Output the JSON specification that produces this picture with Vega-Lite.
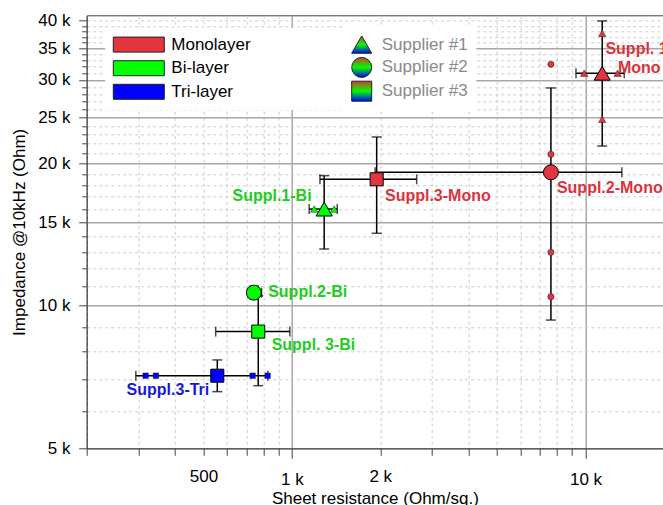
{
  "$schema": "https://vega.github.io/schema/vega-lite/v6.json",
  "width": 576.3,
  "height": 433,
  "autosize": {"type": "none"},
  "padding": {"left": 86.7, "top": 15.3, "right": 0, "bottom": 56.7},
  "background": "white",
  "datasets": {
    "pts": [
      {"name": "Suppl. 1-\nMono", "supplier": "Supplier #1", "layer": "Monolayer", "x": 11400, "y": 31000, "xlo": 9280, "xhi": 13550, "ylo": 21750, "yhi": 39960},
      {"name": "Suppl.2-Mono", "supplier": "Supplier #2", "layer": "Monolayer", "x": 7625, "y": 19140, "xlo": 1920, "xhi": 13300, "ylo": 9330, "yhi": 28850},
      {"name": "Suppl.3-Mono", "supplier": "Supplier #3", "layer": "Monolayer", "x": 1944, "y": 18500, "xlo": 1246, "xhi": 2660, "ylo": 14230, "yhi": 22730},
      {"name": "Suppl.1-Bi", "supplier": "Supplier #1", "layer": "Bi-layer", "x": 1288, "y": 16010, "xlo": 1145, "xhi": 1427, "ylo": 13180, "yhi": 18830},
      {"name": "Suppl.2-Bi", "supplier": "Supplier #2", "layer": "Bi-layer", "x": 742, "y": 10660, "xlo": 707, "xhi": 788, "ylo": 10350, "yhi": 11000},
      {"name": "Suppl. 3-Bi", "supplier": "Supplier #3", "layer": "Bi-layer", "x": 768, "y": 8820, "xlo": 550, "xhi": 984, "ylo": 6780, "yhi": 10500},
      {"name": "Suppl.3-Tri", "supplier": "Supplier #3", "layer": "Tri-layer", "x": 557, "y": 7117, "xlo": 294, "xhi": 828, "ylo": 6586, "yhi": 7685}
    ],
    "samples": [
      {"supplier": "Supplier #1", "layer": "Monolayer", "x": 11400, "y": 37630},
      {"supplier": "Supplier #1", "layer": "Monolayer", "x": 9900, "y": 31000},
      {"supplier": "Supplier #1", "layer": "Monolayer", "x": 12860, "y": 31000},
      {"supplier": "Supplier #1", "layer": "Monolayer", "x": 11400, "y": 24770},
      {"supplier": "Supplier #2", "layer": "Monolayer", "x": 7625, "y": 32370},
      {"supplier": "Supplier #2", "layer": "Monolayer", "x": 7625, "y": 20890},
      {"supplier": "Supplier #2", "layer": "Monolayer", "x": 7625, "y": 12970},
      {"supplier": "Supplier #2", "layer": "Monolayer", "x": 7625, "y": 10450},
      {"supplier": "Supplier #1", "layer": "Bi-layer", "x": 1191, "y": 16010},
      {"supplier": "Supplier #1", "layer": "Bi-layer", "x": 1393, "y": 16010},
      {"supplier": "Supplier #3", "layer": "Tri-layer", "x": 317.5, "y": 7117},
      {"supplier": "Supplier #3", "layer": "Tri-layer", "x": 344.2, "y": 7117},
      {"supplier": "Supplier #3", "layer": "Tri-layer", "x": 734.8, "y": 7117},
      {"supplier": "Supplier #3", "layer": "Tri-layer", "x": 826.4, "y": 7117}
    ]
  },
  "layer": [
    {
      "data": {"name": "pts"},
      "mark": {"type": "errorbar", "color": "black", "thickness": 1.5, "ticks": {"size": 10, "thickness": 1.5, "color": "black"}},
      "encoding": {
        "x": {
          "field": "xlo", "type": "quantitative", "title": "Sheet resistance (Ohm/sq.)",
          "scale": {"type": "log", "domain": [200, 18364], "nice": false},
          "axis": {
            "title": "Sheet resistance (Ohm/sq.)",
            "values": [200, 300, 400, 500, 600, 700, 800, 900, 1000, 2000, 3000, 4000, 5000, 6000, 7000, 8000, 9000, 10000],
            "labelExpr": "datum.value == 500 ? '500' : (datum.value == 1000 ? '1 k' : (datum.value == 2000 ? '2 k' : (datum.value == 10000 ? '10 k' : '')))",
            "labelOverlap": false, "labelFlush": false, "labelBound": false,
            "grid": true,
            "gridDash": {"condition": {"test": "datum.value == 1000 || datum.value == 10000", "value": []}, "value": [3, 3]},
            "gridColor": {"condition": {"test": "datum.value == 1000 || datum.value == 10000", "value": "#a8a8a8"}, "value": "#cccccc"},
            "gridWidth": {"condition": {"test": "datum.value == 1000 || datum.value == 10000", "value": 1.5}, "value": 1},
            "tickSize": {"condition": {"test": "datum.value == 1000 || datum.value == 10000", "value": 10}, "value": 7},
            "labelPadding": 13.5,
            "titlePadding": 2.5
          }
        },
        "x2": {"field": "xhi"},
        "y": {
          "field": "y", "type": "quantitative", "title": "Impedance @10kHz (Ohm)",
          "scale": {"type": "log", "domain": [5000, 41080], "nice": false},
          "axis": {
            "title": "Impedance @10kHz (Ohm)",
            "values": [5000, 6000, 7000, 8000, 9000, 10000, 11000, 12000, 13000, 14000, 15000, 16000, 17000, 18000, 19000, 20000, 21000, 22000, 23000, 24000, 25000, 26000, 27000, 28000, 29000, 30000, 31000, 32000, 33000, 34000, 35000, 36000, 37000, 38000, 39000, 40000],
            "labelExpr": "datum.value % 5000 == 0 ? (datum.value / 1000) + ' k' : ''",
            "labelOverlap": false, "labelFlush": false, "labelBound": false,
            "grid": true,
            "gridDash": {"condition": {"test": "datum.value % 5000 == 0 && datum.value < 40000", "value": []}, "value": [3, 3]},
            "gridColor": {"condition": {"test": "datum.value % 5000 == 0 && datum.value < 40000", "value": "#a8a8a8"}, "value": "#cccccc"},
            "gridWidth": {"condition": {"test": "datum.value % 5000 == 0 && datum.value < 40000", "value": 1.5}, "value": 1},
            "tickSize": {"condition": {"test": "datum.value % 5000 == 0", "value": 8}, "value": 5},
            "labelPadding": 8.7,
            "titlePadding": 9
          }
        }
      }
    },
    {
      "data": {"name": "pts"},
      "mark": {"type": "errorbar", "color": "black", "thickness": 1.5, "ticks": {"size": 10, "thickness": 1.5, "color": "black"}},
      "encoding": {
        "x": {"field": "x", "type": "quantitative", "title": "Sheet resistance (Ohm/sq.)"},
        "y": {"field": "ylo", "type": "quantitative", "title": "Impedance @10kHz (Ohm)"},
        "y2": {"field": "yhi"}
      }
    },
    {
      "data": {"name": "samples"},
      "mark": {"type": "point", "filled": true, "opacity": 1, "stroke": "#222222", "strokeWidth": 0.5},
      "encoding": {
        "x": {"field": "x", "type": "quantitative", "title": "Sheet resistance (Ohm/sq.)"},
        "y": {"field": "y", "type": "quantitative", "title": "Impedance @10kHz (Ohm)"},
        "color": {"field": "layer", "type": "nominal"},
        "shape": {"field": "supplier", "type": "nominal"},
        "size": {"condition": [{"test": "datum.supplier == 'Supplier #1'", "value": 55}, {"test": "datum.supplier == 'Supplier #2'", "value": 40}], "value": 30}
      }
    },
    {
      "data": {"name": "pts"},
      "mark": {"type": "point", "filled": true, "opacity": 1, "stroke": "black", "strokeWidth": 1},
      "encoding": {
        "x": {"field": "x", "type": "quantitative", "title": "Sheet resistance (Ohm/sq.)"},
        "y": {"field": "y", "type": "quantitative", "title": "Impedance @10kHz (Ohm)"},
        "color": {
          "field": "layer", "type": "nominal",
          "scale": {"domain": ["Monolayer", "Bi-layer", "Tri-layer"], "range": ["#e3353d", "#00ff00", "#0000ff"]},
          "legend": {
            "orient": "none", "legendX": 18.6, "legendY": 12.8, "title": null,
            "symbolType": "M-3.4,-1H3.4V1H-3.4Z", "symbolSize": 225, "symbolOffset": 17,
            "symbolStrokeColor": "#333333", "symbolStrokeWidth": 1,
            "labelOffset": 24, "rowPadding": 4.6, "padding": 8, "fillColor": "white",
            "labelFontSize": 17, "labelColor": "black", "labelLimit": 400,
            "labelExpr": "datum.label + '\u00a0\u00a0\u00a0\u00a0\u00a0\u00a0\u00a0\u00a0\u00a0\u00a0\u00a0\u00a0\u00a0\u00a0\u00a0\u00a0\u00a0\u00a0\u00a0\u200b'"
          }
        },
        "shape": {
          "field": "supplier", "type": "nominal",
          "scale": {"domain": ["Supplier #1", "Supplier #2", "Supplier #3"], "range": ["triangle-up", "circle", "square"]},
          "legend": {
            "orient": "none", "legendX": 256.5, "legendY": 10.8, "title": null,
            "symbolSize": 400,
            "symbolStrokeColor": "black", "symbolStrokeWidth": 1,
            "labelOffset": 9.5, "rowPadding": -1.2, "padding": 8, "fillColor": "white",
            "labelFontSize": 17, "labelColor": "#8a8a8a", "labelLimit": 400
          }
        },
        "size": {"condition": [{"test": "datum.supplier == 'Supplier #1'", "value": 260}, {"test": "datum.supplier == 'Supplier #2'", "value": 225}], "value": 170}
      }
    },
    {
      "data": {"name": "pts"},
      "transform": [{"filter": "datum.supplier == 'Supplier #1' && datum.layer == 'Monolayer'"}],
      "mark": {"type": "text", "align": "center", "baseline": "middle", "dx": 37, "dy": -24, "lineBreak": "\n", "lineHeight": 19, "fontWeight": "bold", "fontSize": 16, "color": "#d9343c"},
      "encoding": {"x": {"field": "x", "type": "quantitative"}, "y": {"field": "y", "type": "quantitative"}, "text": {"field": "name"}}
    },
    {
      "data": {"name": "pts"},
      "transform": [{"filter": "datum.supplier == 'Supplier #2' && datum.layer == 'Monolayer'"}],
      "mark": {"type": "text", "align": "left", "baseline": "middle", "dx": 6, "dy": 16, "fontWeight": "bold", "fontSize": 16, "color": "#d9343c"},
      "encoding": {"x": {"field": "x", "type": "quantitative"}, "y": {"field": "y", "type": "quantitative"}, "text": {"field": "name"}}
    },
    {
      "data": {"name": "pts"},
      "transform": [{"filter": "datum.supplier == 'Supplier #3' && datum.layer == 'Monolayer'"}],
      "mark": {"type": "text", "align": "left", "baseline": "middle", "dx": 8.3, "dy": 16.4, "fontWeight": "bold", "fontSize": 16, "color": "#d9343c"},
      "encoding": {"x": {"field": "x", "type": "quantitative"}, "y": {"field": "y", "type": "quantitative"}, "text": {"field": "name"}}
    },
    {
      "data": {"name": "pts"},
      "transform": [{"filter": "datum.supplier == 'Supplier #1' && datum.layer == 'Bi-layer'"}],
      "mark": {"type": "text", "align": "right", "baseline": "middle", "dx": -12.6, "dy": -13.3, "fontWeight": "bold", "fontSize": 16, "color": "#22cc22"},
      "encoding": {"x": {"field": "x", "type": "quantitative"}, "y": {"field": "y", "type": "quantitative"}, "text": {"field": "name"}}
    },
    {
      "data": {"name": "pts"},
      "transform": [{"filter": "datum.supplier == 'Supplier #2' && datum.layer == 'Bi-layer'"}],
      "mark": {"type": "text", "align": "left", "baseline": "middle", "dx": 14.3, "dy": -1, "fontWeight": "bold", "fontSize": 16, "color": "#22cc22"},
      "encoding": {"x": {"field": "x", "type": "quantitative"}, "y": {"field": "y", "type": "quantitative"}, "text": {"field": "name"}}
    },
    {
      "data": {"name": "pts"},
      "transform": [{"filter": "datum.supplier == 'Supplier #3' && datum.layer == 'Bi-layer'"}],
      "mark": {"type": "text", "align": "left", "baseline": "middle", "dx": 13.4, "dy": 13.3, "fontWeight": "bold", "fontSize": 16, "color": "#22cc22"},
      "encoding": {"x": {"field": "x", "type": "quantitative"}, "y": {"field": "y", "type": "quantitative"}, "text": {"field": "name"}}
    },
    {
      "data": {"name": "pts"},
      "transform": [{"filter": "datum.layer == 'Tri-layer'"}],
      "mark": {"type": "text", "align": "right", "baseline": "middle", "dx": -8, "dy": 14.3, "fontWeight": "bold", "fontSize": 16, "color": "#1818d8"},
      "encoding": {"x": {"field": "x", "type": "quantitative"}, "y": {"field": "y", "type": "quantitative"}, "text": {"field": "name"}}
    }
  ],
  "config": {
    "font": "Liberation Sans",
    "view": {"stroke": "#444444", "strokeWidth": 1},
    "text": {"font": "Liberation Sans"},
    "axis": {
      "labelFont": "Liberation Sans", "titleFont": "Liberation Sans",
      "labelFontSize": 17, "titleFontSize": 17, "titleFontWeight": "normal",
      "labelColor": "black", "titleColor": "black",
      "domainColor": "#444444", "domainWidth": 1,
      "tickColor": "#444444", "tickWidth": 1
    },
    "legend": {
      "labelFont": "Liberation Sans",
      "symbolBaseFillColor": {"gradient": "linear", "x1": 0, "y1": 0, "x2": 0, "y2": 1, "stops": [{"offset": 0, "color": "#c8402e"}, {"offset": 0.5, "color": "#00ff00"}, {"offset": 1, "color": "#0000ff"}]}
    }
  }
}
